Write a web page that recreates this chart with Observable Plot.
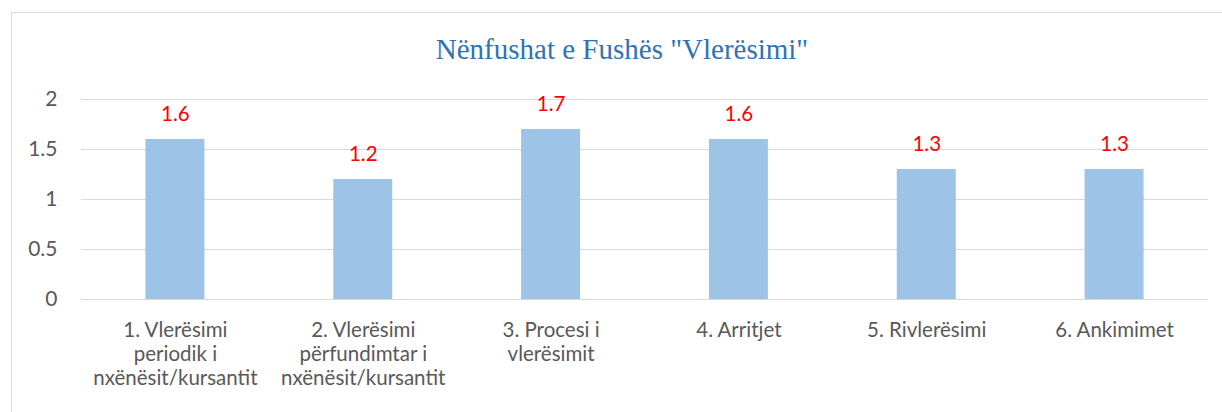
<!DOCTYPE html>
<html><head><meta charset="utf-8">
<script src="https://cdn.jsdelivr.net/npm/d3@7"></script>
<script src="https://cdn.jsdelivr.net/npm/@observablehq/plot@0.6"></script>
<style>
body{margin:0;background:#fff;}
#wrap{position:relative;width:1222px;height:412px;overflow:hidden;}
#frame{position:absolute;left:11px;top:12px;width:1300px;height:420px;border:1px solid #d9d9d9;}
#title{position:absolute;top:33px;left:622px;transform:translateX(-50%);font-family:"Liberation Serif","Times New Roman",serif;font-size:29px;color:#2e74b5;white-space:nowrap;}
#chart{position:absolute;left:0;top:0;}
</style></head>
<body><div id="wrap"><div id="frame"></div><div id="title">Nënfushat e Fushës "Vlerësimi"</div><div id="chart"></div></div>
<script>
const categories = [
  "1. Vlerësimi\nperiodik i\nnxënësit/kursantit",
  "2. Vlerësimi\npërfundimtar i\nnxënësit/kursantit",
  "3. Procesi i\nvlerësimit",
  "4. Arritjet",
  "5. Rivlerësimi",
  "6. Ankimimet"
];
const values = [1.6, 1.2, 1.7, 1.6, 1.3, 1.3];
const yTicks = [0, 0.5, 1, 1.5, 2];
const data = categories.map((c, i) => ({category: c, value: values[i]}));
const chart = Plot.plot({
  width: 1222, height: 412,
  marginLeft: 81, marginRight: 14, marginTop: 99, marginBottom: 113,
  style: {fontFamily: "Lato, sans-serif", fontSize: "20.5px", background: "transparent", overflow: "visible"},
  x: {domain: categories, paddingInner: 0.686, paddingOuter: 0.343, round: false, label: null},
  y: {domain: [0, 2], label: null},
  marks: [
    Plot.gridY(yTicks, {stroke: "#d9d9d9", strokeOpacity: 1, strokeWidth: 1.2}),
    Plot.barY(data, {x: "category", y: "value", fill: "#9dc3e6"}),
    Plot.text(data, {x: "category", y: "value", text: d => String(d.value), dy: -25, fill: "#ff0000", fontSize: 20.5}),
    Plot.axisY(yTicks, {tickSize: 0, tickPadding: 24, tickFormat: d => String(d), fill: "#595959", fontSize: 21, label: null}),
    Plot.axisX({tickSize: 0, tickPadding: 20, lineAnchor: "top", lineHeight: 1.18, fill: "#595959", label: null})
  ]
});
document.getElementById("chart").appendChild(chart);
</script>
</body></html>
